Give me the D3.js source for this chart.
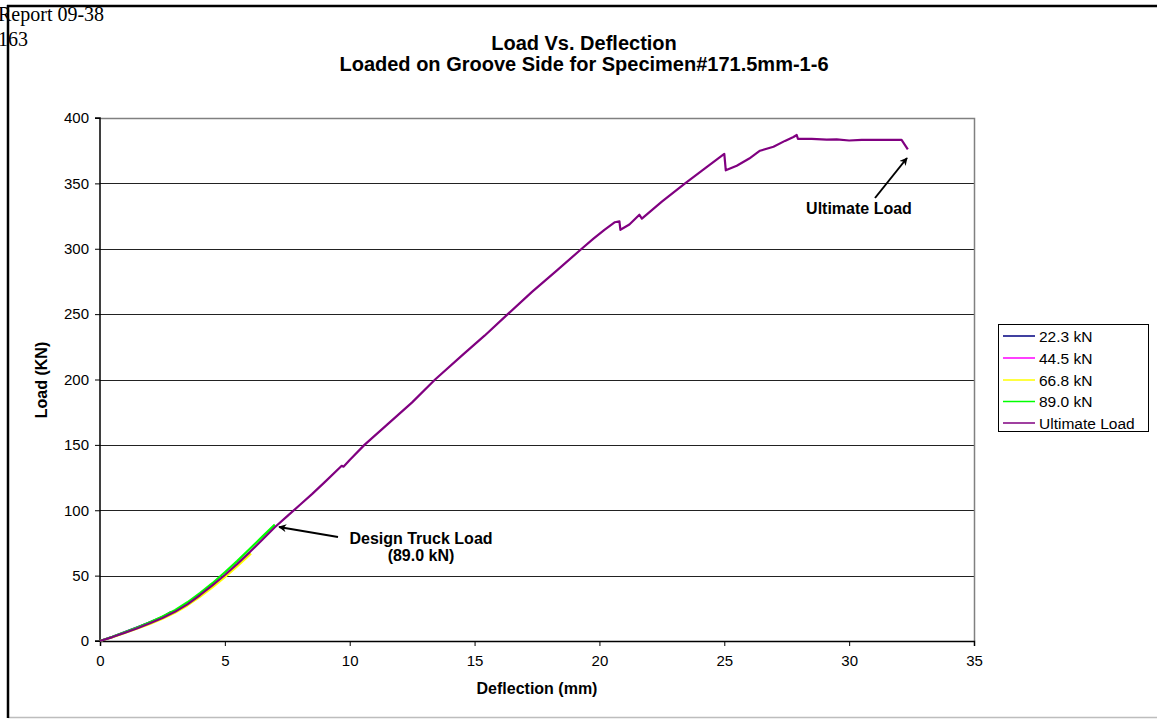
<!DOCTYPE html>
<html>
<head>
<meta charset="utf-8">
<script src="https://cdn.jsdelivr.net/npm/d3@7/dist/d3.min.js"></script>
<style>
  html, body { margin: 0; padding: 0; background: #fff; }
  svg { display: block; }
  text { font-family: "Liberation Sans", Arial, sans-serif; }
</style>
</head>
<body>
<svg id="chart" width="1157" height="719"></svg>
<script>
// ---------------- DATA ----------------
const titleLines = ["Load Vs. Deflection", "Loaded on Groove Side for Specimen#171.5mm-1-6"];
const xTicks = [0, 5, 10, 15, 20, 25, 30, 35];
const yTicks = [0, 50, 100, 150, 200, 250, 300, 350, 400];
const seriesNames = ["22.3 kN", "44.5 kN", "66.8 kN", "89.0 kN", "Ultimate Load"];
const seriesColors = ["#000080", "#FF00FF", "#FFFF00", "#00FF00", "#800080"];

// [deflection (mm), load (kN)]
const load22 = [[0,0],[0.5,3.2],[1,6.8],[1.5,10.5],[2,14.4],[2.5,18.3],[2.85,22.3]];
const load44 = [[0,0],[0.5,3.1],[1,6.5],[1.5,10.1],[2,14],[2.5,18.2],[3,23],[3.5,28.8],[4,35.5],[4.5,42.3],[4.65,44.5]];
const load66 = [[0,0],[0.5,2.9],[1,6.1],[1.5,9.5],[2,13.1],[2.5,17.1],[3,21.6],[3.5,27.2],[4,33.8],[4.5,41],[5,48.8],[5.5,57.2],[6,66],[6.05,66.8]];
const load89 = [[0,0],[0.5,3.2],[1,6.7],[1.5,10.4],[2,14.4],[2.5,18.7],[3,23.6],[3.5,29.6],[4,36.6],[4.5,44.2],[5,52.6],[5.5,61.3],[6,70.5],[6.5,79.8],[7,89]];
const loadUlt = [[0,0],[0.5,3],[1,6.3],[1.5,9.8],[2,13.5],[2.5,17.6],[3,22.3],[3.5,28],[4,35],[4.5,42.5],[5,50.5],[5.5,59],[6,68],[6.5,77.5],[7,87],[7.5,95.5],[8,104],[8.5,112.5],[9,121.5],[9.68,134],[9.75,133.3],[10,138.5],[10.59,150],[11.5,165.5],[12.5,182.5],[13.42,200],[14.5,218.5],[15.4,233.5],[16.33,250],[17.3,267],[18.3,283.5],[19.29,300],[19.75,307.5],[20.2,314.5],[20.62,320.3],[20.8,321],[20.84,314.5],[21.2,318.5],[21.6,326],[21.7,323],[22.5,336],[23.43,350],[24.2,361],[25.0,372.5],[25.06,360],[25.5,363.5],[26.0,369],[26.43,375],[26.97,378],[27.43,382.5],[27.77,385.5],[27.9,387],[27.95,384],[28.5,384],[29.1,383.5],[29.5,383.6],[30,382.8],[30.5,383.2],[31,383.3],[31.5,383.3],[32.1,383.3],[32.35,376]];
const allSeries = [load22, load44, load66, load89, loadUlt];

// ---------------- CHART ----------------
const svg = d3.select("#chart");
svg.append("rect").attr("width", 1157).attr("height", 719).attr("fill", "#fff");

// page header text (frame lines are drawn over it)
const serif = "'Liberation Serif', 'Times New Roman', serif";
svg.append("text").attr("x", -2).attr("y", 21)
  .style("font-family", serif).style("font-size", "20px").text("Report 09-38");
svg.append("text").attr("x", -2).attr("y", 46)
  .style("font-family", serif).style("font-size", "20px").text("163");

// outer frame
svg.append("line").attr("x1", 8).attr("x2", 1157).attr("y1", 717.5).attr("y2", 717.5)
  .attr("stroke", "#bdbdbd").attr("stroke-width", 1.5);
svg.append("line").attr("x1", 8).attr("x2", 8).attr("y1", 5).attr("y2", 718)
  .attr("stroke", "#000").attr("stroke-width", 2.5);
svg.append("line").attr("x1", 7).attr("x2", 1157).attr("y1", 6).attr("y2", 6)
  .attr("stroke", "#000").attr("stroke-width", 2.5);

const x = d3.scaleLinear().domain([0, 35]).range([100, 974]);
const y = d3.scaleLinear().domain([0, 400]).range([641, 118]);

// gridlines
svg.append("g").selectAll("line").data(yTicks.filter(d => d > 0 && d < 400)).join("line")
  .attr("x1", x(0)).attr("x2", x(35))
  .attr("y1", d => Math.round(y(d)) + 0.5).attr("y2", d => Math.round(y(d)) + 0.5)
  .attr("stroke", "#222").attr("stroke-width", 1);

// plot border top/right (gray)
svg.append("path")
  .attr("d", `M${x(0)},${Math.round(y(400)) + 0.5}H${Math.round(x(35)) + 0.5}V${y(0)}`)
  .attr("fill", "none").attr("stroke", "#808080").attr("stroke-width", 1.5);

// axes
const yAxis = d3.axisLeft(y).tickValues(yTicks).tickSize(5).tickPadding(6).tickFormat(d3.format("d"));
const xAxis = d3.axisBottom(x).tickValues(xTicks).tickSize(5).tickPadding(9).tickFormat(d3.format("d"));

const gy = svg.append("g").attr("transform", `translate(${x(0)},0)`).call(yAxis);
const gx = svg.append("g").attr("transform", `translate(0,${y(0)})`).call(xAxis);
[gx, gy].forEach(g => {
  g.select(".domain").attr("stroke", "#000").attr("stroke-width", 1.5);
  g.selectAll(".tick line").attr("stroke", "#000").attr("stroke-width", 1);
  g.selectAll(".tick text").attr("fill", "#000")
    .style("font-family", "'Liberation Sans', Arial, sans-serif").style("font-size", "15px");
});
gy.select(".domain").attr("d", `M-5,${y(400)}H0V${y(0)}H-5`);

// series lines
const line = d3.line().x(d => x(d[0])).y(d => y(d[1]));
svg.append("g").selectAll("path").data(allSeries).join("path")
  .attr("d", d => line(d))
  .attr("fill", "none")
  .attr("stroke", (d, i) => seriesColors[i])
  .attr("stroke-width", (d, i) => i === 4 ? 2.2 : 2.2)
  .attr("stroke-linejoin", "round");

// titles
svg.append("text").attr("x", 584).attr("y", 50).attr("text-anchor", "middle")
  .style("font-weight", "bold").style("font-size", "20px").text(titleLines[0]);
svg.append("text").attr("x", 584).attr("y", 71).attr("text-anchor", "middle")
  .style("font-weight", "bold").style("font-size", "20px").text(titleLines[1]);

svg.append("text").attr("x", 537).attr("y", 694).attr("text-anchor", "middle")
  .style("font-weight", "bold").style("font-size", "16px").text("Deflection (mm)");
svg.append("text").attr("transform", "translate(47,380) rotate(-90)").attr("text-anchor", "middle")
  .style("font-weight", "bold").style("font-size", "16px").text("Load (KN)");

// legend
const lg = svg.append("g");
lg.append("rect").attr("x", 998.5).attr("y", 324.5).attr("width", 150).attr("height", 107)
  .attr("fill", "#fff").attr("stroke", "#000").attr("stroke-width", 1);
const rowsY = [336, 358, 380, 401.5, 423];
seriesNames.forEach((name, i) => {
  lg.append("line").attr("x1", 1003).attr("x2", 1035).attr("y1", rowsY[i]).attr("y2", rowsY[i])
    .attr("stroke", seriesColors[i]).attr("stroke-width", 1.5);
  lg.append("text").attr("x", 1039).attr("y", rowsY[i] + 5.5)
    .style("font-size", "15.5px").text(name);
});

// annotations
const defs = svg.append("defs");
defs.append("marker").attr("id", "arrow").attr("viewBox", "0 0 10 10")
  .attr("refX", 9).attr("refY", 5).attr("markerWidth", 11).attr("markerHeight", 8)
  .attr("markerUnits", "userSpaceOnUse").attr("orient", "auto")
  .append("path").attr("d", "M0,0L10,5L0,10L3,5Z").attr("fill", "#000");

svg.append("line").attr("x1", 875).attr("y1", 198).attr("x2", 907).attr("y2", 158)
  .attr("stroke", "#000").attr("stroke-width", 2).attr("marker-end", "url(#arrow)");
svg.append("text").attr("x", 859).attr("y", 214).attr("text-anchor", "middle")
  .style("font-weight", "bold").style("font-size", "16px").text("Ultimate Load");

svg.append("line").attr("x1", 338).attr("y1", 537).attr("x2", 279).attr("y2", 527)
  .attr("stroke", "#000").attr("stroke-width", 2).attr("marker-end", "url(#arrow)");
svg.append("text").attr("x", 421).attr("y", 544).attr("text-anchor", "middle")
  .style("font-weight", "bold").style("font-size", "16px").text("Design Truck Load");
svg.append("text").attr("x", 421).attr("y", 561).attr("text-anchor", "middle")
  .style("font-weight", "bold").style("font-size", "16px").text("(89.0 kN)");
</script>
</body>
</html>
